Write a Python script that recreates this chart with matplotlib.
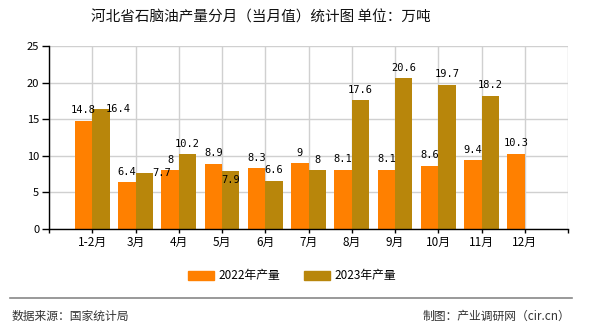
import matplotlib
matplotlib.use("Agg")
import matplotlib.pyplot as plt
import numpy as np
from matplotlib.patches import Patch

plt.rcParams['font.family'] = ['Noto Sans CJK SC', 'DejaVu Sans']

months = ["1-2月", "3月", "4月", "5月", "6月", "7月", "8月", "9月", "10月", "11月", "12月"]
prod_2022 = [14.8, 6.4, 8, 8.9, 8.3, 9, 8.1, 8.1, 8.6, 9.4, 10.3]
prod_2023 = [16.4, 7.7, 10.2, 7.9, 6.6, 8, 17.6, 20.6, 19.7, 18.2, None]

c22 = "#FF8000"
c23 = "#B8860B"
w = 0.4

fig = plt.figure(figsize=(5.9, 3.3), dpi=100)
ax = fig.add_axes([49 / 590, 1 - 229 / 330, (568 - 49) / 590, (229 - 46) / 330])

x = np.arange(len(months))
ax.bar(x - w / 2, prod_2022, width=w, color=c22, zorder=2)
x23 = [i for i, v in enumerate(prod_2023) if v is not None]
v23 = [v for v in prod_2023 if v is not None]
ax.bar(np.array(x23) + w / 2, v23, width=w, color=c23, zorder=2)

lab = dict(fontsize=7.5, family=['DejaVu Sans Mono'], ha='center', zorder=3)
for i, v in enumerate(prod_2022):
    ax.annotate(f"{v:g}", (i - w / 2, v), xytext=(0, 4), textcoords="offset points",
                va='bottom', **lab)
# 2023 labels, nudged like the original where they would collide
nudge = {0: (w, 0, 'center'), 1: (w, 0, 'center'), 3: (0, -6, 'center')}
for i, v in zip(x23, v23):
    dx, dy, va = nudge.get(i, (0, 4, 'bottom'))
    ax.annotate(f"{v:g}", (i + w / 2 + dx, v), xytext=(0, dy), textcoords="offset points",
                va=va, **lab)

ax.set_xlim(-1, 11)
ax.set_ylim(0, 25)
ax.set_yticks(range(0, 26, 5))
ax.set_xticks(range(-1, 12))
ax.set_xticklabels([""] + months + [""], fontsize=8.5)
ax.tick_params(axis='y', labelsize=8, length=5, width=1, direction='out', pad=2)
ax.tick_params(axis='x', length=3, width=1, pad=2)
ax.grid(True, color="#d0d0d0", linewidth=1, zorder=0)
ax.set_axisbelow(True)
for s in ("top", "right"):
    ax.spines[s].set_visible(False)
for s in ("left", "bottom"):
    ax.spines[s].set_color("black")
    ax.spines[s].set_linewidth(1)

fig.text(261 / 590, 1 - 18 / 330, "河北省石脑油产量分月（当月值）统计图 单位：万吨",
         ha='center', va='center', fontsize=10.5, color="#111111")

handles = [Patch(color=c22, label="2022年产量"), Patch(color=c23, label="2023年产量")]
fig.legend(handles=handles, loc='center', bbox_to_anchor=(292 / 590, 1 - 276 / 330),
           ncol=2, frameon=False, fontsize=8.5, handlelength=2.2, handleheight=0.9,
           columnspacing=2.0, handletextpad=0.4)

fig.add_artist(plt.Line2D([10 / 590, 572 / 590], [1 - 298 / 330] * 2,
                          color="#888888", linewidth=1.2, transform=fig.transFigure))
fig.text(12 / 590, 1 - 316 / 330, "数据来源：国家统计局", ha='left', va='center',
         fontsize=8.5, color="#333333")
fig.text(570 / 590, 1 - 316 / 330, "制图：产业调研网（cir.cn）", ha='right', va='center',
         fontsize=8.5, color="#333333")

fig.savefig("out.png", dpi=100)
